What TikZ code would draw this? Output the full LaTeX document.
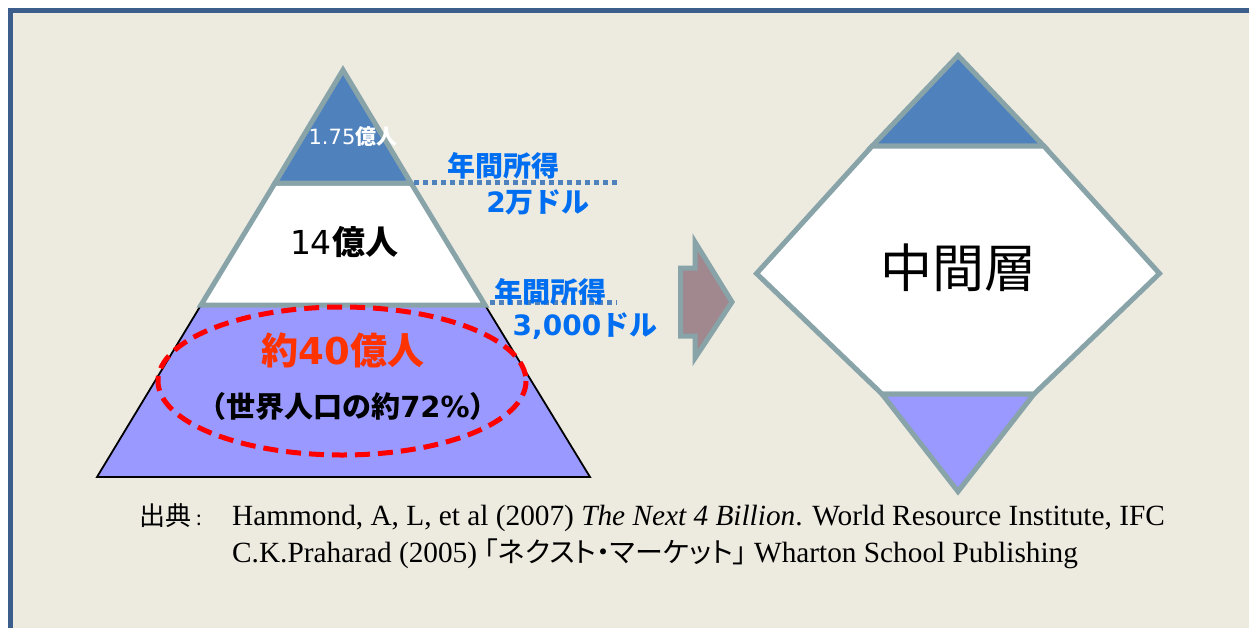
\documentclass[tikz,border=0pt]{standalone}
\usepackage{fontspec}
\setmainfont{Liberation Serif}
\newfontfamily\jp{Noto Sans CJK JP}
\newfontfamily\jpp[RawFeature=+palt]{Noto Sans CJK JP}
\newfontfamily\dv{DejaVu Sans}
\definecolor{bgbeige}{RGB}{237,234,224}
\definecolor{framebl}{RGB}{59,94,140}
\definecolor{greyst}{RGB}{136,164,168}
\definecolor{topblue}{RGB}{79,129,189}
\definecolor{lowpurple}{RGB}{153,153,255}
\definecolor{txtblue}{RGB}{0,110,240}
\definecolor{redorange}{RGB}{255,51,0}
\definecolor{arrowfill}{RGB}{160,136,142}
\tikzset{
  band/.style={draw=greyst,line width=5pt,line join=miter},
  baseband/.style={draw=black,line width=1.8pt},
  income/.style={font=\jp\bfseries\fontsize{28}{31}\selectfont,text=txtblue,inner sep=0pt},
  incomeline/.style={draw=topblue,line width=5pt,dash pattern=on 5pt off 4pt},
  lbl/.style={inner sep=0pt},
}
\begin{document}
\begin{tikzpicture}[x=1pt,y=-1pt]
\useasboundingbox (0,0) rectangle (1249,627);
\clip (0,0) rectangle (1249,627);
\fill[white] (0,0) rectangle (1249,627);
\draw[fill=bgbeige,draw=framebl,line width=5pt] (10.5,10.5) rectangle (1270,650);

% ---- left pyramid ----
\path[fill=lowpurple,baseband] (201,305) -- (485,305) -- (590,477) -- (97,477) -- cycle;
\path[fill=white,band] (275,183) -- (411,183) -- (485,305) -- (201,305) -- cycle;
\path[fill=topblue,band] (343,70) -- (411,183) -- (275,183) -- cycle;

\node[lbl,text=white] (n175) at (353,137) {{\dv\fontsize{21}{24}\selectfont 1.75}{\jp\bfseries\fontsize{21}{24}\selectfont 億人}};
\node[lbl] (n14) at (344,242) {{\dv\fontsize{33}{36}\selectfont 14}{\jp\bfseries\fontsize{33}{36}\selectfont 億人}};

\draw[red,line width=5pt,dash pattern=on 15pt off 8pt] (342,381) ellipse [x radius=184,y radius=74];
\node[lbl,text=redorange] (n40) at (343,350) {{\jp\bfseries\fontsize{37}{40}\selectfont 約}{\dv\bfseries\fontsize{37}{40}\selectfont 40}{\jp\bfseries\fontsize{37}{40}\selectfont 億人}};
\node[lbl] (n72) at (348,406) {{\jp\bfseries\fontsize{29}{32}\selectfont （世界人口の約}{\dv\bfseries\fontsize{29}{32}\selectfont 72\%}{\jp\bfseries\fontsize{29}{32}\selectfont ）}};

% income labels
\coordinate (d1a) at (414,182);
\coordinate (d1b) at (617,182);
\draw[incomeline] (d1a) -- (d1b);
\node[income] (inc1) at (503,166) {年間所得};
\node[lbl,text=txtblue] (inc1v) at (538,202) {{\dv\bfseries\fontsize{28}{31}\selectfont 2}{\jp\bfseries\fontsize{28}{31}\selectfont 万ドル}};

\coordinate (d2a) at (490,302);
\coordinate (d2b) at (617,302);
\draw[incomeline] (d2a) -- (d2b);
\node[income] (inc2) at (550,292) {年間所得};
\node[lbl,text=txtblue] (inc2v) at (585,326) {{\dv\bfseries\fontsize{28}{31}\selectfont 3,000}{\jp\bfseries\fontsize{28}{31}\selectfont ドル}};

% ---- block arrow ----
\path[fill=arrowfill,band] (680.5,268) -- (695,268) -- (695,242) -- (732,302) -- (695,358) -- (695,336) -- (680.5,336) -- cycle;

% ---- right diamond ----
\path[fill=topblue,band] (958,55.5) -- (1043.8,146) -- (872.2,146) -- cycle;
\path[fill=white,band] (872.2,146) -- (1043.8,146) -- (1159.5,273.5) -- (1034,394) -- (882,394) -- (756.5,273.5) -- cycle;
\path[fill=lowpurple,band] (882,394) -- (1034,394) -- (958,491.5) -- cycle;
\node[lbl] (mid) at (958,268) {\jp\fontsize{52}{58}\selectfont 中間層};

% ---- footer ----
\node[lbl,anchor=base west] (src) at (139,525) {\jp\fontsize{26}{29}\selectfont 出典\hspace{5pt}{\fontsize{20}{24}\selectfont :}};
\node[lbl,anchor=base west] (ref1) at (232,525) {\fontsize{29.3}{33}\selectfont Hammond, A, L, et al (2007) \textit{The Next 4 Billion}. World Resource Institute, IFC};
\node[lbl,anchor=base west] (ref2) at (232,562) {\fontsize{29.3}{33}\selectfont C.K.Praharad (2005) {\jpp\fontsize{28}{31}\selectfont「ネクスト・マーケット」} Wharton School Publishing};
\end{tikzpicture}
\end{document}
